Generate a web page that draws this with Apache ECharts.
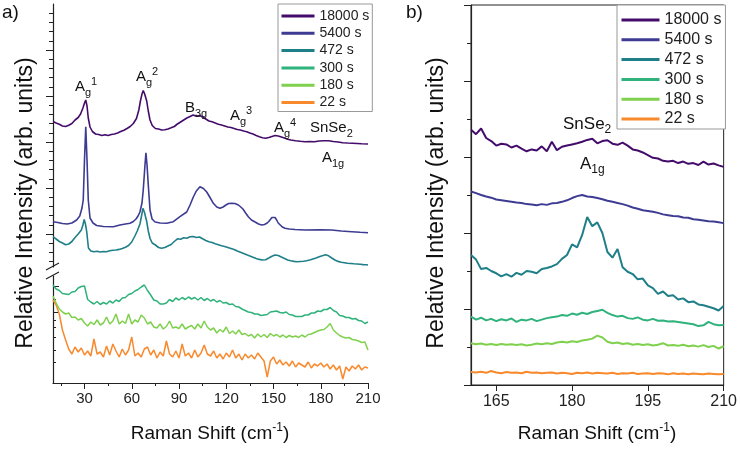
<!DOCTYPE html>
<html><head><meta charset="utf-8">
<script src="https://cdn.jsdelivr.net/npm/echarts@6/dist/echarts.min.js"></script>
<style>html,body{margin:0;padding:0;background:#fff}#c{width:740px;height:450px}</style>
</head><body><div id="c"></div>
<script>
// ---------- data ----------
const legendNames = ['18000 s','5400 s','472 s','300 s','180 s','22 s'];
const colors = ['#440c6a','#3d3b92','#1f7f88','#2fb27b','#7fd14d','#f8892c'];

// panel a) upper section: [Raman shift, intensity]
const a18000 = [[10,14.45],[12,14.3],[14,14.17],[16,14.0],[18,13.95],[20,14.08],[22,14.25],[24,14.6],[26,14.85],[27.5,15.2],[29,15.8],[30,16.3],[30.8,16.6],[31.6,16.0],[32.4,14.8],[33.5,13.9],[35,13.45],[37,13.2],[39,13.15],[41,13.05],[43,13.12],[45,13.05],[47,13.15],[49,13.2],[51,13.3],[53,13.45],[55,13.58],[57,13.75],[59,13.95],[61,14.25],[63,14.75],[64.5,15.6],[65.5,16.5],[66.5,17.2],[67.3,17.55],[68.2,17.2],[69.5,16.5],[70.5,15.5],[71.6,14.6],[73,14.05],[75,13.75],[77,13.7],[79,13.6],[81,13.62],[83,13.7],[85,13.82],[87,13.95],[89,14.2],[91,14.4],[93,14.6],[95,14.8],[97,14.95],[99,15.1],[101,14.98],[103,15.05],[105,14.9],[107,14.7],[109,14.5],[111,14.42],[113,14.3],[115,14.18],[117,14.1],[119,14.0],[121,13.9],[123,13.85],[125,13.75],[127,13.65],[129,13.6],[131,13.5],[133,13.43],[135,13.3],[137,13.2],[139,13.05],[141,12.93],[143,12.83],[145,12.78],[147,12.85],[149,12.95],[151,13.05],[153,13.0],[155,12.9],[157,12.8],[159,12.68],[161,12.6],[164,12.52],[167,12.47],[170,12.43],[173,12.45],[176,12.42],[179,12.5],[182,12.52],[185,12.53],[188,12.45],[191,12.4],[194,12.33],[197,12.3],[200,12.28],[203,12.25],[206,12.22],[210,12.2]];
const a5400 = [[10,4.43],[13,4.35],[16,4.25],[19,4.2],[22,4.3],[25,4.6],[27,5.0],[28.4,5.8],[29.2,6.6],[30,10.6],[30.8,13.93],[31.6,10.6],[32.4,6.6],[33.5,4.8],[35.4,4.3],[37.7,4.05],[42,3.95],[48.3,3.93],[52.5,4.1],[56,4.2],[58.9,4.27],[61,4.45],[62.7,4.7],[64,5.0],[65.2,5.4],[66.5,6.3],[67.3,7.6],[68.4,10.1],[69.0,11.33],[69.7,10.1],[70.5,8.1],[71.6,5.6],[72.9,4.7],[74.8,4.4],[78,4.3],[82.2,4.27],[86.4,4.43],[90.6,4.93],[94.9,5.4],[97,6.1],[99.1,6.9],[101,7.5],[103.3,7.93],[105.5,7.75],[107.6,7.4],[109.7,6.85],[111.8,6.27],[114,5.9],[116,5.77],[118,5.9],[119.8,6.1],[121.5,6.25],[123.5,6.27],[125.5,6.25],[127.7,6.1],[129.2,5.9],[130.6,5.7],[132.3,5.3],[134,4.93],[136,4.6],[138.3,4.4],[140.5,4.2],[142.5,4.1],[144.3,4.15],[145.7,4.27],[147,4.45],[147.9,4.6],[149,4.85],[150,4.95],[151,4.85],[152,4.6],[153,4.3],[154.1,4.1],[155.6,3.9],[157.3,3.77],[160,3.7],[163.7,3.65],[170,3.6],[179.5,3.63],[186.9,3.6],[193,3.5],[199.7,3.43],[205,3.37],[210,3.33]];
const a472 = [[10,2.93],[12,2.7],[14,2.45],[16,2.3],[18,2.12],[20,2.2],[22,2.45],[24,2.85],[26,3.2],[28,3.6],[29,4.1],[29.8,4.65],[30.6,4.2],[31.4,3.43],[32.5,1.8],[34,1.5],[36,1.42],[38,1.48],[40,1.4],[42,1.45],[44,1.43],[46,1.52],[48,1.58],[50,1.6],[52,1.66],[54,1.75],[56,1.88],[58,2.05],[60,2.4],[62,3.0],[63.5,3.5],[65.2,4.2],[66.2,5.0],[67.1,5.77],[68,5.4],[69.5,4.45],[70.5,3.5],[71.6,2.77],[73,2.3],[75,2.1],[77,1.85],[79,1.77],[81,1.85],[83,2.0],[85,2.15],[87,2.45],[89,2.72],[91,2.68],[93,2.82],[95,2.78],[97,2.92],[99,2.95],[101,2.85],[103,2.9],[105,2.72],[107,2.55],[109,2.42],[111,2.35],[113,2.22],[115,2.12],[117,2.02],[119,1.95],[121,1.85],[123,1.75],[125,1.65],[127,1.5],[129,1.38],[131,1.25],[133,1.12],[135,1.0],[137,0.88],[139,0.76],[141,0.66],[143,0.6],[145,0.63],[147,0.8],[149,0.98],[151,1.1],[153,1.05],[155,0.9],[157,0.75],[159,0.6],[161,0.52],[163,0.46],[165,0.43],[167,0.45],[169,0.47],[171,0.52],[173,0.6],[175,0.7],[177,0.8],[179,0.92],[181,1.03],[183,1.12],[184,1.13],[185,1.02],[187,0.8],[189,0.6],[191,0.46],[193,0.38],[195,0.33],[197,0.28],[199,0.25],[201,0.22],[203,0.2],[205,0.17],[207,0.14],[209,0.12],[210,0.1]];

// panel a) lower section, sampled on xLeft
const xLeft = [10,12,14,16,18,20,22,24,26,28,30,32,34,36,38,40,42,44,46,48,50,52,54,56,58,60,62,64,66,68,70,72,74,76,78,80,82,84,86,88,90,92,94,96,98,100,102,104,106,108,110,112,114,116,118,120,122,124,126,128,130,132,134,136,138,140,142,144,146,148,150,152,154,156,158,160,162,164,166,168,170,172,174,176,178,180,182,184,186,188,190,192,194,196,198,200,202,204,206,208,210];
const a300 = [9.8,9.4,9.25,8.95,8.9,8.85,9.1,9.15,9.5,9.65,
 9.7,8.35,8.1,7.9,8.15,7.85,8.05,7.9,8.2,8.0,
 8.3,8.15,8.5,8.55,8.85,8.95,9.2,9.35,9.6,9.8,
 9.25,8.8,8.3,8.2,7.9,7.9,8.0,8.35,8.15,8.5,
 8.3,8.55,8.35,8.6,8.4,8.55,8.3,8.55,8.25,8.45,
 8.2,8.35,8.1,8.25,8.0,8.05,7.85,7.9,7.65,7.6,
 7.4,7.25,7.1,7.05,6.9,6.9,6.75,6.8,6.85,7.1,
 7.15,7.2,7.05,7.0,7.1,6.85,6.8,6.65,6.65,6.65,
 6.8,6.8,7.0,7.0,7.2,7.15,7.35,7.35,7.55,7.25,
 7.1,6.75,6.7,6.55,6.55,6.4,6.45,6.25,6.2,5.95,
 6.1];
const a180 = [8.7,8.0,7.4,7.1,6.9,7.0,6.55,6.6,6.3,6.45,
 6.0,5.7,6.1,5.85,6.3,5.8,6.0,6.6,5.9,6.2,
 6.9,5.9,6.2,5.95,6.9,5.9,6.3,6.1,6.8,6.5,
 5.9,6.1,5.6,5.5,5.9,5.4,5.65,6.2,5.5,5.6,
 5.45,5.9,5.4,5.6,5.75,5.4,5.9,5.5,6.2,5.6,
 5.3,5.5,5.0,5.35,5.1,5.6,4.95,5.2,4.9,5.3,
 4.85,4.95,4.7,4.85,4.5,4.9,4.6,4.85,4.55,4.95,
 4.7,4.85,4.6,4.8,4.55,4.75,4.6,4.7,4.55,4.8,
 4.6,4.85,4.9,5.05,5.2,5.3,5.35,5.6,5.95,5.3,
 5.0,4.75,4.6,4.5,4.55,4.35,4.3,4.2,4.05,4.1,
 3.3];
const a22 = [8.3,7.8,6.9,5.3,4.3,3.4,2.9,3.6,3.1,3.5,
 2.8,3.2,2.7,4.4,2.9,3.1,2.6,3.7,2.8,3.9,
 3.2,2.6,3.4,2.8,3.3,4.6,2.7,3.0,2.6,3.4,
 3.6,2.8,3.3,2.5,3.1,2.7,4.2,2.9,2.6,3.2,
 2.5,3.9,2.7,3.0,2.5,3.3,2.6,3.0,3.8,2.9,
 2.7,3.2,2.5,2.9,2.4,3.0,2.6,3.3,2.5,2.9,
 2.3,2.9,2.5,2.8,2.4,3.0,2.6,2.2,0.6,2.2,
 2.6,1.9,2.3,1.8,2.1,1.7,2.2,1.6,2.0,1.8,
 1.6,2.1,1.5,1.9,1.7,2.0,1.6,1.9,1.4,1.8,
 1.3,1.7,0.4,1.6,1.2,1.7,1.4,1.8,1.3,1.6,
 1.5];

// panel b)
const xRight = [160,161,162,163,164,165,166,167,168,169,170,171,172,173,174,175,176,177,178,179,180,181,182,183,184,185,186,187,188,189,190,191,192,193,194,195,196,197,198,199,200,201,202,203,204,205,206,207,208,209,210];
const b18000 = [6.72,6.6,6.75,6.5,6.42,6.3,6.35,6.33,6.25,6.3, 6.22,6.15,6.2,6.17,6.28,6.15,6.4,6.18,6.27,6.3, 6.33,6.36,6.4,6.45,6.48,6.36,6.42,6.44,6.35,6.32, 6.38,6.3,6.2,6.17,6.12,6.05,5.98,5.96,5.9,5.88, 5.9,5.84,5.88,5.82,5.84,5.79,5.88,5.8,5.83,5.78, 5.74];
const b5400 = [5.09,5.05,5.0,4.96,4.93,4.88,4.86,4.84,4.82,4.8, 4.79,4.76,4.75,4.73,4.76,4.74,4.78,4.79,4.82,4.86, 4.92,4.97,5.0,4.96,4.95,4.92,4.89,4.85,4.82,4.79, 4.76,4.72,4.67,4.64,4.6,4.58,4.56,4.53,4.49,4.47, 4.45,4.44,4.41,4.4,4.36,4.35,4.33,4.31,4.3,4.28, 4.26];
const b472 = [3.42,3.3,3.05,3.08,3.0,2.94,2.86,2.92,2.85,2.95, 2.9,3.0,2.98,2.94,3.05,3.08,3.12,3.18,3.32,3.42, 3.7,3.62,3.95,4.42,4.18,4.28,4.0,3.5,3.35,3.58, 3.1,2.98,2.92,2.78,2.8,2.62,2.55,2.4,2.46,2.34, 2.36,2.25,2.28,2.18,2.2,2.12,2.1,2.06,2.02,1.96, 2.08];
const b300 = [1.8,1.72,1.77,1.7,1.74,1.68,1.73,1.7,1.75,1.66, 1.72,1.7,1.74,1.68,1.72,1.76,1.78,1.8,1.84,1.82, 1.88,1.85,1.9,1.87,1.92,1.95,1.98,1.9,1.84,1.8, 1.82,1.76,1.74,1.78,1.72,1.7,1.74,1.69,1.7,1.67, 1.68,1.66,1.64,1.62,1.6,1.55,1.57,1.66,1.6,1.57, 1.58];
const b180 = [1.1,1.07,1.09,1.06,1.08,1.05,1.08,1.06,1.07,1.05, 1.07,1.04,1.06,1.09,1.07,1.1,1.08,1.12,1.14,1.12, 1.15,1.13,1.17,1.19,1.22,1.3,1.25,1.14,1.1,1.12, 1.08,1.1,1.06,1.08,1.05,1.07,1.04,1.06,1.1,1.04, 1.05,1.03,1.06,1.02,1.04,1.01,1.05,1.0,1.03,0.96, 1.02];
const b22 = [0.34,0.33,0.35,0.32,0.37,0.33,0.31,0.34,0.32,0.33, 0.31,0.35,0.32,0.33,0.31,0.32,0.33,0.3,0.32,0.31, 0.29,0.32,0.31,0.33,0.3,0.32,0.31,0.3,0.32,0.29, 0.31,0.3,0.32,0.29,0.3,0.31,0.29,0.31,0.3,0.28, 0.31,0.29,0.3,0.28,0.3,0.29,0.28,0.3,0.29,0.28, 0.29];

// axis ticks
const ticksXA = [30,60,90,120,150,180,210];
const minorXA = [15,45,75,105,135,165,195];
const ticksXB = [165,180,195,210];
const upperMajor = [3.2,7.8,12.4,17.0,21.6];
const upperMinor = [0.44,1.36,2.28,4.12,5.04,5.96,6.88,8.72,9.64,10.56,11.48,13.32,14.24,15.16,16.08,17.92,18.84,19.76,20.68,22.52,23.44,24.36,25.28];
const lowerMajor = [9.7,7.1];
const lowerMinor = [8.4,6.3,5.6,4.6,3.3,2.1];

// ---------- chart ----------
const FONT = '"Liberation Sans", Arial, sans-serif';
const AX = '#222';
const chart = echarts.init(document.getElementById('c'), null, {renderer:'canvas'});
const zipX = (xs, ys) => xs.map((x,i)=>[x, ys[i]]);

function lineSeries(name, idx, data, xi, yi, w){
  return {type:'line', name, data, xAxisIndex:xi, yAxisIndex:yi, showSymbol:false, symbol:'none',
    lineStyle:{color:colors[idx], width:w}, itemStyle:{color:colors[idx]}, silent:true, animation:false, z:10-idx};
}
const subRich = (fs) => ({
  m:{fontSize:fs, lineHeight:fs+7, verticalAlign:'middle', fontFamily:FONT, fill:'#111'},
  s:{fontSize:Math.round(fs*0.72), lineHeight:Math.round(fs*0.8), verticalAlign:'bottom', fontFamily:FONT, fill:'#111'},
  p:{fontSize:Math.round(fs*0.72), lineHeight:Math.round(fs*0.55), verticalAlign:'top', fontFamily:FONT, fill:'#111'}
});
function label(x, y, text, fs){
  return {type:'text', x, y, silent:true, z:50, style:{text, rich:subRich(fs), fontSize:fs, fontFamily:FONT, fill:'#111'}};
}
const titleRich = {m:{fontSize:19, lineHeight:24, verticalAlign:'middle', fontFamily:FONT, fill:'#111'}, p:{fontSize:12, lineHeight:12, verticalAlign:'top', fontFamily:FONT, fill:'#111'}};

const option = {
  animation:false,
  backgroundColor:'#fff',
  grid:[
    {left:53, right:372, top:4, bottom:183},
    {left:53, right:372, top:276, bottom:67},
    {left:471, right:15, top:5, bottom:65, show:true, borderColor:AX, borderWidth:1}
  ],
  xAxis:[
    {type:'value', gridIndex:0, min:10, max:210, show:false},
    {type:'value', gridIndex:1, min:10, max:210, axisLine:{lineStyle:{color:AX, width:1.2}},
     axisTick:{customValues:ticksXA, length:6, lineStyle:{color:AX}},
     axisLabel:{customValues:ticksXA, fontSize:15, color:'#222', fontFamily:FONT, margin:8}, splitLine:{show:false}},
    {type:'value', gridIndex:1, min:10, max:210, position:'bottom', axisLine:{show:false},
     axisTick:{customValues:minorXA, length:3, lineStyle:{color:AX}}, axisLabel:{show:false}, splitLine:{show:false}},
    {type:'value', gridIndex:2, min:160, max:210, axisLine:{lineStyle:{color:AX, width:1.2}},
     axisTick:{customValues:ticksXB, length:6, lineStyle:{color:AX}},
     axisLabel:{customValues:ticksXB, fontSize:16, color:'#222', fontFamily:FONT, margin:9}, splitLine:{show:false}}
  ],
  yAxis:[
    {type:'value', gridIndex:0, min:-0.1, max:26.2, position:'left', axisLine:{show:true, lineStyle:{color:AX, width:1.2}},
     axisTick:{show:true, customValues:upperMajor, length:7, lineStyle:{color:AX}}, axisLabel:{show:false}, splitLine:{show:false}},
    {type:'value', gridIndex:0, min:-0.1, max:26.2, position:'left', axisLine:{show:false},
     axisTick:{show:true, customValues:upperMinor, length:4, lineStyle:{color:AX}}, axisLabel:{show:false}, splitLine:{show:false}},
    {type:'value', gridIndex:1, min:0, max:10.7, position:'left', axisLine:{show:true, lineStyle:{color:AX, width:1.2}},
     axisTick:{show:true, inside:true, customValues:lowerMajor, length:6, lineStyle:{color:AX}}, axisLabel:{show:false}, splitLine:{show:false}},
    {type:'value', gridIndex:1, min:0, max:10.7, position:'left', axisLine:{show:false},
     axisTick:{show:true, inside:true, customValues:lowerMinor, length:3, lineStyle:{color:AX}}, axisLabel:{show:false}, splitLine:{show:false}},
    {type:'value', gridIndex:2, min:0, max:10, interval:2, position:'left', axisLine:{show:true, lineStyle:{color:AX, width:1.2}},
     axisTick:{show:true, length:7, lineStyle:{color:AX}}, minorTick:{show:true, splitNumber:2, length:4, lineStyle:{color:AX}},
     axisLabel:{show:false}, splitLine:{show:false}, minorSplitLine:{show:false}}
  ],
  legend:[
    {data:legendNames, orient:'vertical', left:278, top:4, itemWidth:33, itemHeight:14, itemGap:3.3,
     padding:[5,3,2,2], borderColor:'#999', borderWidth:1, selectedMode:false, backgroundColor:'#fff',
     itemStyle:{opacity:0, borderWidth:0}, lineStyle:{width:3},
     textStyle:{fontSize:14, lineHeight:14, color:'#222', fontFamily:FONT}},
    {data:legendNames, orient:'vertical', left:617, top:5, itemWidth:38, itemHeight:16, itemGap:3.8,
     padding:[7,4,2,3], borderColor:'#999', borderWidth:1, selectedMode:false, backgroundColor:'#fff',
     itemStyle:{opacity:0, borderWidth:0}, lineStyle:{width:3},
     textStyle:{fontSize:16, lineHeight:16, color:'#222', fontFamily:FONT}}
  ],
  series:[
    lineSeries('18000 s',0,a18000,0,0,1.6),
    lineSeries('5400 s',1,a5400,0,0,1.6),
    lineSeries('472 s',2,a472,0,0,1.6),
    lineSeries('300 s',3,zipX(xLeft,a300),1,2,1.5),
    lineSeries('180 s',4,zipX(xLeft,a180),1,2,1.5),
    lineSeries('22 s',5,zipX(xLeft,a22),1,2,1.5),
    lineSeries('18000 s',0,zipX(xRight,b18000),3,4,2),
    lineSeries('5400 s',1,zipX(xRight,b5400),3,4,2),
    lineSeries('472 s',2,zipX(xRight,b472),3,4,2),
    lineSeries('300 s',3,zipX(xRight,b300),3,4,2),
    lineSeries('180 s',4,zipX(xRight,b180),3,4,2),
    lineSeries('22 s',5,zipX(xRight,b22),3,4,2)
  ],
  graphic:[
    {type:'text', x:2, y:3, style:{text:'a)', fontSize:19, fontFamily:FONT, fill:'#111'}},
    {type:'text', x:406, y:3, style:{text:'b)', fontSize:19, fontFamily:FONT, fill:'#111'}},
    // axis break marks
    {type:'line', shape:{x1:46, y1:270, x2:59, y2:263}, style:{stroke:AX, lineWidth:1.2}},
    {type:'line', shape:{x1:46, y1:279, x2:59, y2:272}, style:{stroke:AX, lineWidth:1.2}},
    // axis titles
    {type:'text', x:26, y:203, rotation:Math.PI/2, style:{text:'Relative Intensity (arb. units)', fontSize:23, fontFamily:FONT, fill:'#111', textAlign:'center', textVerticalAlign:'middle'}},
    {type:'text', x:437, y:203, rotation:Math.PI/2, style:{text:'Relative Intensity (arb. units)', fontSize:23, fontFamily:FONT, fill:'#111', textAlign:'center', textVerticalAlign:'middle'}},
    {type:'text', x:210, y:434, style:{text:'{m|Raman Shift (cm}{p|-1}{m|)}', rich:titleRich, textAlign:'center', textVerticalAlign:'middle'}},
    {type:'text', x:597, y:434, style:{text:'{m|Raman Shift (cm}{p|-1}{m|)}', rich:titleRich, textAlign:'center', textVerticalAlign:'middle'}},
    // peak labels panel a
    label(75, 76, '{m|A}{s|g}{p|1}', 15),
    label(136, 66, '{m|A}{s|g}{p|2}', 15),
    label(185, 97, '{m|B}{s|3g}', 15),
    label(230, 105, '{m|A}{s|g}{p|3}', 15),
    label(274, 117, '{m|A}{s|g}{p|4}', 15),
    label(310, 117, '{m|SnSe}{s|2}', 15),
    label(322, 147, '{m|A}{s|1g}', 15),
    // panel b
    label(563, 112, '{m|SnSe}{s|2}', 17),
    label(580, 152, '{m|A}{s|1g}', 17)
  ]
};
chart.setOption(option);
</script></body></html>
